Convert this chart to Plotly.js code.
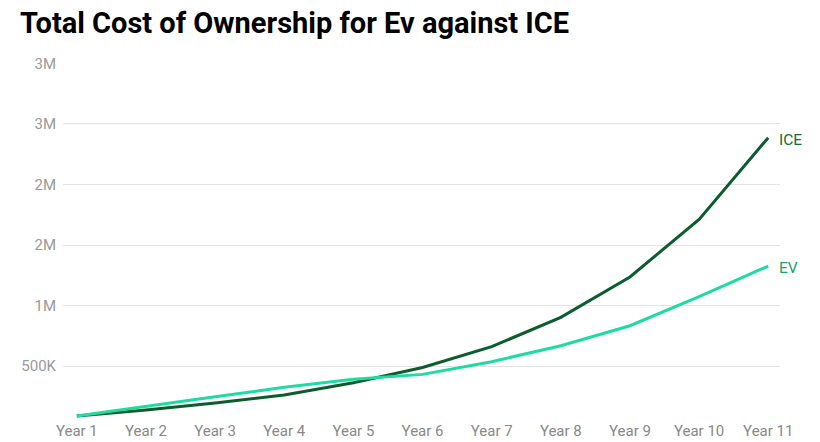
<!DOCTYPE html>
<html>
<head>
<meta charset="utf-8">
<script src="https://cdn.plot.ly/plotly-3.0.1.min.js"></script>
<style>html,body{margin:0;padding:0;background:#fff;}#chart{width:820px;height:442px;}</style>
</head>
<body>
<div id="chart"></div>
<script>
const years = ["Year 1","Year 2","Year 3","Year 4","Year 5","Year 6","Year 7","Year 8","Year 9","Year 10","Year 11"];
const ice = [87000, 136000, 194000, 260000, 362000, 488000, 660000, 902000, 1236000, 1712000, 2387000];
const ev  = [87000, 169000, 246000, 324000, 390000, 431000, 536000, 668000, 833000, 1073000, 1326000];
const tickVals = [500000, 1000000, 1500000, 2000000, 2500000, 3000000];
const tickText = ["500K", "1M", "2M", "2M", "3M", "3M"];
const seriesNames = ["ICE", "EV"];
const lineColors = ["#0d5c2e", "#1edba2"];
const labelColors = ["#146b3a", "#13a574"];

const traces = [ice, ev].map((vals, i) => ({
  type: "scatter", mode: "lines", x: years, y: vals, name: seriesNames[i],
  line: {color: lineColors[i], width: 3}, hoverinfo: "skip"
}));

const annotations = [ice, ev].map((vals, i) => ({
  x: years[years.length - 1], y: vals[vals.length - 1], xref: "x", yref: "y",
  text: seriesNames[i], showarrow: false, xanchor: "left", yanchor: "middle",
  xshift: 9, yshift: -2, font: {family: "Roboto", size: 15.5, color: labelColors[i]}
}));

const layout = {
  width: 820, height: 442,
  margin: {l: 63, r: 40, t: 63, b: 22},
  paper_bgcolor: "#fff", plot_bgcolor: "#fff",
  showlegend: false,
  title: {text: "<b>Total Cost of Ownership for Ev against ICE</b>", x: 0, xref: "paper", xanchor: "left",
    y: 0.948, yanchor: "middle", pad: {l: -43},
    font: {family: "Roboto", size: 29, color: "#000"}},
  xaxis: {type: "category", range: [-0.2, 10.17], showgrid: false, zeroline: false, showline: false,
    ticks: "", tickfont: {family: "Roboto", size: 15, color: "#888"}, fixedrange: true},
  yaxis: {range: [54000, 3004000], tickvals: tickVals, ticktext: tickText, showgrid: true,
    gridcolor: "#e3e3e3", gridwidth: 1, zeroline: false, showline: false, ticks: "",
    ticklabelstandoff: 6,
    tickfont: {family: "Roboto", size: 15, color: "#999"}, fixedrange: true},
  annotations: annotations
};
Plotly.newPlot("chart", traces, layout, {displayModeBar: false, staticPlot: true});
</script>
</body>
</html>
